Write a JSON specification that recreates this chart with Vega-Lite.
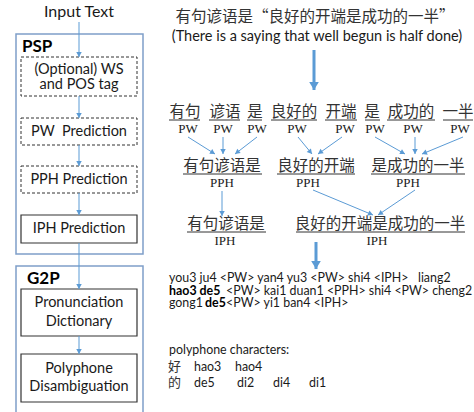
{
  "$schema": "https://vega.github.io/schema/vega-lite/v6.json",
  "width": 474,
  "height": 412,
  "padding": 0,
  "autosize": {"type": "none"},
  "config": {"view": {"stroke": null}},
  "datasets": {
    "outer": [
      {"x": 16, "x2": 143, "y": 34, "y2": 254},
      {"x": 16, "x2": 143, "y": 266, "y2": 420}
    ],
    "dashed": [
      {"x": 21, "x2": 137, "y": 57, "y2": 96},
      {"x": 21, "x2": 137, "y": 118, "y2": 145},
      {"x": 21, "x2": 137, "y": 166, "y2": 193}
    ],
    "solid": [
      {"x": 21, "x2": 137, "y": 215, "y2": 243},
      {"x": 21, "x2": 137, "y": 289, "y2": 336},
      {"x": 21, "x2": 137, "y": 354, "y2": 402}
    ],
    "thin": [
      {"x": 79, "y": 22, "x2": 79, "y2": 57},
      {"x": 79, "y": 96, "x2": 79, "y2": 118},
      {"x": 79, "y": 145, "x2": 79, "y2": 166},
      {"x": 79, "y": 193, "x2": 79, "y2": 215},
      {"x": 79, "y": 243, "x2": 79, "y2": 289},
      {"x": 79, "y": 336, "x2": 79, "y2": 354},
      {"x": 188, "y": 137, "x2": 215, "y2": 154},
      {"x": 223, "y": 137, "x2": 223, "y2": 154},
      {"x": 257, "y": 137, "x2": 235, "y2": 154},
      {"x": 298, "y": 137, "x2": 312, "y2": 154},
      {"x": 342, "y": 137, "x2": 318, "y2": 154},
      {"x": 375, "y": 137, "x2": 405, "y2": 154},
      {"x": 415, "y": 137, "x2": 415, "y2": 154},
      {"x": 463, "y": 137, "x2": 422, "y2": 154},
      {"x": 222, "y": 191, "x2": 222, "y2": 216},
      {"x": 313, "y": 190, "x2": 373, "y2": 215},
      {"x": 415, "y": 190, "x2": 378, "y2": 215}
    ],
    "thick": [
      {"x": 314, "y": 50, "x2": 314, "y2": 90},
      {"x": 316, "y": 242, "x2": 316, "y2": 269}
    ],
    "underlines": [
      {"x": 169, "x2": 200, "y": 120},
      {"x": 209, "x2": 240, "y": 120},
      {"x": 247, "x2": 262, "y": 120},
      {"x": 271, "x2": 317, "y": 120},
      {"x": 325, "x2": 357, "y": 120},
      {"x": 365, "x2": 380, "y": 120},
      {"x": 387, "x2": 435, "y": 120},
      {"x": 443, "x2": 473, "y": 120},
      {"x": 183, "x2": 262, "y": 174},
      {"x": 277, "x2": 355, "y": 174},
      {"x": 371, "x2": 465, "y": 174},
      {"x": 187, "x2": 266, "y": 232},
      {"x": 296, "x2": 465, "y": 232}
    ],
    "title": [
      {"x": 79, "y": 12, "t": "Input Text"}
    ],
    "sans": [
      {"x": 79, "y": 70, "t": "(Optional) WS"},
      {"x": 79, "y": 85, "t": "and POS tag"},
      {"x": 79, "y": 132, "t": "PW\u00a0 Prediction"},
      {"x": 79, "y": 180, "t": "PPH Prediction"},
      {"x": 79, "y": 229, "t": "IPH Prediction"},
      {"x": 79, "y": 303, "t": "Pronunciation"},
      {"x": 79, "y": 322, "t": "Dictionary"},
      {"x": 79, "y": 369, "t": "Polyphone"},
      {"x": 79, "y": 387, "t": "Disambiguation"},
      {"x": 317, "y": 37, "t": "(There is a saying that well begun is half done)"}
    ],
    "boldhead": [
      {"x": 22, "y": 47, "t": "PSP"},
      {"x": 27, "y": 279, "t": "G2P"}
    ],
    "cjk": [
      {"x": 315, "y": 17, "t": "有句谚语是“良好的开端是成功的一半”"},
      {"x": 185, "y": 112, "t": "有句"},
      {"x": 225, "y": 112, "t": "谚语"},
      {"x": 255, "y": 112, "t": "是"},
      {"x": 294, "y": 112, "t": "良好的"},
      {"x": 341, "y": 112, "t": "开端"},
      {"x": 372, "y": 112, "t": "是"},
      {"x": 411, "y": 112, "t": "成功的"},
      {"x": 458, "y": 112, "t": "一半"},
      {"x": 222, "y": 166, "t": "有句谚语是"},
      {"x": 316, "y": 166, "t": "良好的开端"},
      {"x": 418, "y": 166, "t": "是成功的一半"},
      {"x": 226, "y": 224, "t": "有句谚语是"},
      {"x": 380, "y": 224, "t": "良好的开端是成功的一半"}
    ],
    "serif": [
      {"x": 188, "y": 129, "t": "PW"},
      {"x": 223, "y": 129, "t": "PW"},
      {"x": 257, "y": 129, "t": "PW"},
      {"x": 297, "y": 129, "t": "PW"},
      {"x": 345, "y": 129, "t": "PW"},
      {"x": 375, "y": 129, "t": "PW"},
      {"x": 413, "y": 129, "t": "PW"},
      {"x": 460, "y": 129, "t": "PW"},
      {"x": 222, "y": 183, "t": "PPH"},
      {"x": 308, "y": 183, "t": "PPH"},
      {"x": 408, "y": 183, "t": "PPH"},
      {"x": 225, "y": 241, "t": "IPH"},
      {"x": 377, "y": 241, "t": "IPH"}
    ],
    "body": [
      {"x": 169, "y": 278, "t": "you3 ju4 <PW> yan4 yu3 <PW> shi4 <IPH>\u00a0\u00a0 liang2"},
      {"x": 226, "y": 291, "t": "<PW> kai1 duan1 <PPH> shi4 <PW> cheng2"},
      {"x": 169, "y": 303, "t": "gong1"},
      {"x": 226, "y": 303, "t": "<PW> yi1 ban4 <IPH>"},
      {"x": 169, "y": 350, "t": "polyphone characters:"},
      {"x": 194, "y": 367, "t": "hao3"},
      {"x": 235, "y": 367, "t": "hao4"},
      {"x": 194, "y": 383, "t": "de5"},
      {"x": 237, "y": 383, "t": "di2"},
      {"x": 273, "y": 383, "t": "di4"},
      {"x": 309, "y": 383, "t": "di1"}
    ],
    "bodybold": [
      {"x": 169, "y": 291, "t": "hao3 de5"},
      {"x": 205, "y": 303, "t": "de5"}
    ],
    "bodycjk": [
      {"x": 168, "y": 367, "t": "好"},
      {"x": 168, "y": 383, "t": "的"}
    ]
  },
  "encoding": {
    "x": {"field": "x", "type": "quantitative", "scale": {"domain": [0, 474], "nice": false, "zero": false}, "axis": null},
    "y": {"field": "y", "type": "quantitative", "scale": {"domain": [0, 412], "nice": false, "zero": false, "reverse": true}, "axis": null}
  },
  "layer": [
    {
      "data": {"name": "outer"},
      "mark": {"type": "rect", "fill": null, "stroke": "#7f9fc9", "strokeWidth": 1.5},
      "encoding": {"x2": {"field": "x2"}, "y2": {"field": "y2"}}
    },
    {
      "data": {"name": "dashed"},
      "mark": {"type": "rect", "fill": null, "stroke": "#333333", "strokeWidth": 1, "strokeDash": [3, 2]},
      "encoding": {"x2": {"field": "x2"}, "y2": {"field": "y2"}}
    },
    {
      "data": {"name": "solid"},
      "mark": {"type": "rect", "fill": null, "stroke": "#333333", "strokeWidth": 1.2},
      "encoding": {"x2": {"field": "x2"}, "y2": {"field": "y2"}}
    },
    {
      "data": {"name": "thin"},
      "mark": {"type": "rule", "color": "#5b9bd5", "strokeWidth": 1},
      "encoding": {"x2": {"field": "x2"}, "y2": {"field": "y2"}}
    },
    {
      "data": {"name": "thin"},
      "transform": [
        {"calculate": "atan2(-(datum.x2 - datum.x), datum.y2 - datum.y) * 180 / PI", "as": "ang"}
      ],
      "mark": {"type": "point", "shape": "M-0.55,-1L0.55,-1L0,0Z", "filled": true, "size": 100, "color": "#5b9bd5", "opacity": 1},
      "encoding": {
        "x": {"field": "x2", "type": "quantitative"},
        "y": {"field": "y2", "type": "quantitative"},
        "angle": {"field": "ang", "type": "quantitative", "scale": null}
      }
    },
    {
      "data": {"name": "thick"},
      "mark": {"type": "rule", "color": "#5b9bd5", "strokeWidth": 3},
      "encoding": {"x2": {"field": "x2"}, "y2": {"field": "y2"}}
    },
    {
      "data": {"name": "thick"},
      "mark": {"type": "point", "shape": "M-0.6,-1L0.6,-1L0,0Z", "filled": true, "size": 256, "color": "#5b9bd5", "opacity": 1},
      "encoding": {
        "x": {"field": "x2", "type": "quantitative"},
        "y": {"field": "y2", "type": "quantitative"}
      }
    },
    {
      "data": {"name": "underlines"},
      "mark": {"type": "rule", "color": "#333333", "strokeWidth": 1},
      "encoding": {"x2": {"field": "x2"}}
    },
    {
      "data": {"name": "title"},
      "mark": {"type": "text", "font": "Lato", "fontSize": 16, "color": "#1a1a1a", "baseline": "middle", "align": "center"},
      "encoding": {"text": {"field": "t"}}
    },
    {
      "data": {"name": "sans"},
      "mark": {"type": "text", "font": "Lato", "fontSize": 14.5, "color": "#1a1a1a", "baseline": "middle", "align": "center"},
      "encoding": {"text": {"field": "t"}}
    },
    {
      "data": {"name": "boldhead"},
      "mark": {"type": "text", "font": "Lato", "fontSize": 17, "fontWeight": "bold", "color": "#000000", "baseline": "middle", "align": "left"},
      "encoding": {"text": {"field": "t"}}
    },
    {
      "data": {"name": "cjk"},
      "mark": {"type": "text", "font": "Noto Sans CJK SC", "fontSize": 15.5, "color": "#333333", "baseline": "middle", "align": "center"},
      "encoding": {"text": {"field": "t"}}
    },
    {
      "data": {"name": "serif"},
      "mark": {"type": "text", "font": "Liberation Serif", "fontSize": 13, "color": "#1a1a1a", "baseline": "middle", "align": "center"},
      "encoding": {"text": {"field": "t"}}
    },
    {
      "data": {"name": "body"},
      "mark": {"type": "text", "font": "Lato", "fontSize": 12.4, "color": "#1a1a1a", "baseline": "middle", "align": "left"},
      "encoding": {"text": {"field": "t"}}
    },
    {
      "data": {"name": "bodybold"},
      "mark": {"type": "text", "font": "Lato", "fontSize": 12.4, "fontWeight": "bold", "color": "#000000", "baseline": "middle", "align": "left"},
      "encoding": {"text": {"field": "t"}}
    },
    {
      "data": {"name": "bodycjk"},
      "mark": {"type": "text", "font": "Noto Sans CJK SC", "fontSize": 13, "color": "#333333", "baseline": "middle", "align": "left"},
      "encoding": {"text": {"field": "t"}}
    }
  ]
}
